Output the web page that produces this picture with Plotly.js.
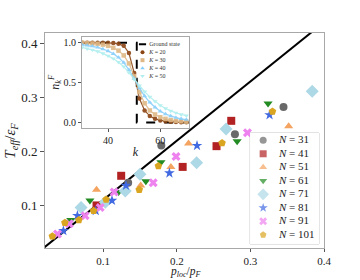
<!DOCTYPE html>
<html><head><meta charset="utf-8">
<script src="https://cdn.plot.ly/plotly-3.0.1.min.js"></script>
<style>html,body{margin:0;padding:0;background:#fff}#chart{width:360px;height:280px}</style>
</head><body><div id="chart"></div>
<script>
// ---------- main panel data: T_eff/eps_F vs p_loc/p_F ----------
const seriesNames = ['31', '41', '51', '61', '71', '81', '91', '101'];
const pN31 = [0.134, 0.179, 0.279, 0.345];
const tN31 = [0.142, 0.211, 0.232, 0.2825];
const pN41 = [0.091, 0.1245, 0.208, 0.254, 0.274];
const tN41 = [0.100, 0.155, 0.1715, 0.210, 0.257];
const pN51 = [0.091, 0.151, 0.192, 0.216, 0.352];
const tN51 = [0.129, 0.137, 0.1715, 0.215, 0.247];
const pN61 = [0.056, 0.082, 0.121, 0.158, 0.1785, 0.282, 0.324];
const tN61 = [0.073, 0.109, 0.125, 0.145, 0.180, 0.219, 0.289];
const pN71 = [0.070, 0.103, 0.130, 0.150, 0.227, 0.267, 0.384];
const tN71 = [0.096, 0.106, 0.127, 0.158, 0.179, 0.242, 0.312];
const pN81 = [0.046, 0.065, 0.090, 0.112, 0.131, 0.190, 0.2275, 0.326];
const tN81 = [0.053, 0.081, 0.090, 0.109, 0.137, 0.160, 0.211, 0.268];
const pN91 = [0.038, 0.054, 0.0755, 0.096, 0.115, 0.168, 0.199, 0.296];
const tN91 = [0.047, 0.066, 0.081, 0.096, 0.125, 0.142, 0.191, 0.235];
const pN101 = [0.031, 0.048, 0.067, 0.087, 0.104, 0.149, 0.175, 0.2615, 0.330];
const tN101 = [0.043, 0.068, 0.073, 0.090, 0.111, 0.129, 0.173, 0.216, 0.2745];
const refLineX = [0.0, 0.5];
const refLineY = [0.0, 0.55];

// ---------- inset data: occupation n_k^F vs k ----------
const insetNames = ['Ground state', '20', '30', '40', '50'];
const kVals = [30, 32, 34, 36, 38, 40, 42, 44, 46, 48, 50, 52, 54, 56, 58, 60, 62, 64, 66, 68, 70];
const nK20 = [1.0, 1.0, 1.0, 1.0, 1.0, 0.998, 0.995, 0.985, 0.96, 0.87, 0.62, 0.30, 0.15, 0.08, 0.045, 0.025, 0.015, 0.01, 0.005, 0.003, 0.002];
const nK30 = [1.0, 0.995, 0.99, 0.985, 0.975, 0.96, 0.935, 0.90, 0.84, 0.74, 0.58, 0.38, 0.24, 0.15, 0.10, 0.065, 0.045, 0.03, 0.02, 0.015, 0.01];
const nK40 = [0.975, 0.965, 0.955, 0.94, 0.92, 0.895, 0.86, 0.815, 0.75, 0.66, 0.55, 0.43, 0.33, 0.25, 0.19, 0.14, 0.105, 0.08, 0.06, 0.045, 0.035];
const nK50 = [0.94, 0.925, 0.91, 0.89, 0.865, 0.835, 0.80, 0.755, 0.70, 0.625, 0.54, 0.46, 0.385, 0.32, 0.265, 0.215, 0.175, 0.145, 0.12, 0.10, 0.085];
const gsK = [30, 51, 51, 71];
const gsN = [1, 1, 0, 0];

// ---------- styles ----------
const SERIF = 'Liberation Serif, DejaVu Serif, serif';
const mainStyles = [
  {symbol: 'circle', color: '#696969', size: 8},
  {symbol: 'square', color: '#b22222', size: 8},
  {symbol: 'triangle-up', color: '#f4a460', size: 8},
  {symbol: 'triangle-down', color: '#228b22', size: 8},
  {symbol: 'diamond', color: '#add8e6', size: 10},
  {symbol: 'star', color: '#4169e1', size: 8},
  {symbol: 'x', color: '#ee82ee', size: 8},
  {symbol: 'pentagon', color: '#daa520', size: 8}
];
const insetStyles = [
  {symbol: 'circle', color: '#8b4513'},
  {symbol: 'square', color: '#deb887'},
  {symbol: 'triangle-up', color: '#87cefa'},
  {symbol: 'triangle-down', color: '#afeeee'}
];
const xs = [pN31, pN41, pN51, pN61, pN71, pN81, pN91, pN101];
const ys = [tN31, tN41, tN51, tN61, tN71, tN81, tN91, tN101];
const nks = [nK20, nK30, nK40, nK50];

const traces = [];
// reference line
traces.push({x: refLineX, y: refLineY, mode: 'lines', line: {color: 'black', width: 2}, xaxis: 'x', yaxis: 'y', hoverinfo: 'skip'});
// main scatter
seriesNames.forEach((n, i) => {
  const s = mainStyles[i];
  traces.push({x: xs[i], y: ys[i], mode: 'markers', name: 'N = ' + n, xaxis: 'x', yaxis: 'y',
    marker: {symbol: s.symbol, color: s.color, size: s.size, line: {width: 0}}});
});
// inset
traces.push({x: gsK, y: gsN, mode: 'lines', xaxis: 'x2', yaxis: 'y2', line: {color: 'black', width: 2, dash: 'dash'}});
nks.forEach((arr, i) => {
  const s = insetStyles[i];
  traces.push({x: kVals, y: arr, mode: 'lines+markers', xaxis: 'x2', yaxis: 'y2',
    line: {color: s.color, width: 1.2}, opacity: 0.9,
    marker: {symbol: s.symbol, color: s.color, size: 4.5, line: {width: 0}}});
});

// main legend (own hidden axes; rows = category index)
const legRows = seriesNames.map((n, i) => i);
const LEG_SYM_X = 0.19, LEG_TXT_X = 0.42;
traces.push({x: legRows.map(() => LEG_SYM_X), y: legRows, mode: 'markers', xaxis: 'x3', yaxis: 'y3',
  marker: {symbol: mainStyles.map(s => s.symbol), color: mainStyles.map(s => s.color),
           size: mainStyles.map(s => s.size - 1), line: {width: 0}}, hoverinfo: 'skip'});
traces.push({x: legRows.map(() => LEG_TXT_X), y: legRows, mode: 'text', xaxis: 'x3', yaxis: 'y3',
  text: seriesNames.map(n => '<i>N</i> = ' + n), textposition: 'middle right',
  textfont: {family: SERIF, size: 11, color: '#222'}, hoverinfo: 'skip'});

// inset legend
const inRows = insetNames.map((n, i) => i);
const IN_SYM_X = 0.09, IN_TXT_X = 0.22;
traces.push({x: [0.02, 0.16], y: [inRows[0], inRows[0]], mode: 'lines', xaxis: 'x4', yaxis: 'y4',
  line: {color: 'black', width: 2}, hoverinfo: 'skip'});
traces.push({x: inRows.slice(1).map(() => IN_SYM_X), y: inRows.slice(1), mode: 'markers', xaxis: 'x4', yaxis: 'y4',
  marker: {symbol: insetStyles.map(s => s.symbol), color: insetStyles.map(s => s.color), size: 4, line: {width: 0}}, hoverinfo: 'skip'});
traces.push({x: inRows.map(() => IN_TXT_X), y: inRows, mode: 'text', xaxis: 'x4', yaxis: 'y4',
  text: insetNames.map((n, i) => i === 0 ? n : '<i>K</i> = ' + n), textposition: 'middle right',
  textfont: {family: SERIF, size: 6, color: '#333'}, hoverinfo: 'skip'});

const axBase = {showline: true, mirror: true, linecolor: '#a8a8a8', linewidth: 1, showgrid: false, zeroline: false,
  ticks: 'outside', tickcolor: '#555', automargin: false};

const layout = {
  width: 360, height: 280,
  margin: {l: 45, r: 36, t: 33, b: 32},
  paper_bgcolor: 'white', plot_bgcolor: 'white',
  showlegend: false,
  font: {family: SERIF, size: 13, color: '#222'},
  xaxis: Object.assign({}, axBase, {domain: [0, 1], anchor: 'y', range: [0.021, 0.4], tickvals: [0.1, 0.2, 0.3, 0.4],
    tickformat: '.1f', ticklen: 3, tickfont: {size: 11}}),
  yaxis: Object.assign({}, axBase, {domain: [0, 1], anchor: 'x', range: [0.021, 0.42], tickvals: [0.1, 0.2, 0.3, 0.4],
    tickformat: '.1f', ticklen: 4, tickfont: {size: 13}}),
  xaxis2: Object.assign({}, axBase, {domain: [0.1326, 0.516], anchor: 'y2', range: [30, 71], tickvals: [40, 60],
    ticklen: 3, tickfont: {size: 10},
    title: {text: '<i>k</i>', standoff: 2, font: {size: 12}}}),
  yaxis2: Object.assign({}, axBase, {domain: [0.558, 0.983], anchor: 'x2', range: [-0.07, 1.075], tickvals: [0, 0.5, 1],
    tickformat: '.1f', ticklen: 3, tickfont: {size: 10},
    title: {text: '<i>n</i><sub><i>k</i></sub><sup><i>F</i></sup>', standoff: 1, font: {size: 12}}}),
  xaxis3: {domain: [0.735, 0.982], anchor: 'y3', range: [0, 1], visible: false, fixedrange: true},
  yaxis3: {domain: [0.0186, 0.535], anchor: 'x3', range: [7.68, -0.54], visible: false, fixedrange: true},
  xaxis4: {domain: [0.333, 0.516], anchor: 'y4', range: [0, 1], visible: false, fixedrange: true},
  yaxis4: {domain: [0.781, 0.981], anchor: 'x4', range: [4.5, -0.9], visible: false, fixedrange: true},
  annotations: [
    {text: '<i>p</i><sub><i>loc</i></sub>/<i>p</i><sub><i>F</i></sub>', xref: 'paper', yref: 'paper',
     x: 0.505, y: -0.15, xanchor: 'center', yanchor: 'bottom', showarrow: false, font: {size: 11.5}, borderpad: 0},
    {text: '<i>T</i><sub><i>eff</i></sub>/<i>ε</i><sub><i>F</i></sub>', xref: 'paper', yref: 'paper',
     x: -0.125, y: 0.5, xanchor: 'center', yanchor: 'middle', textangle: -90, showarrow: false, font: {size: 15}}
  ],
  shapes: [
    {type: 'rect', xref: 'paper', yref: 'paper', x0: 0.735, x1: 0.982, y0: 0.0186, y1: 0.535,
     line: {color: '#c8c8c8', width: 1}, fillcolor: 'white', layer: 'below'},
    {type: 'rect', xref: 'paper', yref: 'paper', x0: 0.333, x1: 0.513, y0: 0.781, y1: 0.978,
     line: {color: '#e0e0e0', width: 0.8}, fillcolor: 'white', layer: 'below'}
  ]
};

Plotly.newPlot('chart', traces, layout, {staticPlot: true, displayModeBar: false});
</script>
</body></html>
